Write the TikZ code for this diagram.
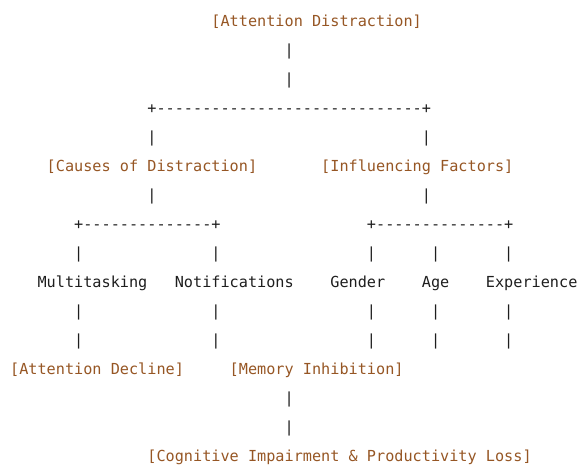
\documentclass[tikz,border=0pt]{standalone}
\usepackage{fontspec}
\setmonofont{DejaVu Sans Mono}
\usepackage{xcolor}
\usetikzlibrary{positioning}
\definecolor{topicbrown}{RGB}{150,86,36}
\definecolor{plaintext}{RGB}{30,30,30}

\begin{document}
\begin{tikzpicture}[x=9.15pt,y=-29pt]
\tikzstyle{every node}=[inner sep=0pt,anchor=base west,font=\ttfamily\fontsize{15.2}{18}\selectfont]
\tikzstyle{topic}=[text=topicbrown]
\tikzstyle{item}=[text=plaintext]
\useasboundingbox (-9.9pt,26.5pt) rectangle (569.1pt,-439.5pt);

\node[topic] (root) at (22,0) {[Attention Distraction]};
\node[item] (bar1) at (15,3) {+-----------------------------+};
\node[topic] (causes) at (4,5) {[Causes of Distraction]};
\node[topic] (factors) at (34,5) {[Influencing Factors]};
\node[item] (bar2) at (7,7) {+--------------+};
\node[item] (bar3) at (39,7) {+--------------+};

\node[item] (multi) at (3,9) {Multitasking};
\node[item] (notif) at (18,9) {Notifications};
\node[item] (gender) at (35,9) {Gender};
\node[item] (age) at (45,9) {Age};
\node[item] (exper) at (52,9) {Experience};

\node[topic] (decline) at (0,12) {[Attention Decline]};
\node[topic] (memory) at (24,12) {[Memory Inhibition]};
\node[topic] (loss) at (15,15) {[Cognitive Impairment \& Productivity Loss]};

% the | links between the rows
\foreach \r/\c in {1/30,2/30,4/15,4/45,6/15,6/45,13/30,14/30}
  \node[item] (pipe-\r-\c) at (\c,\r) {|};
\foreach \r in {8,10,11}
  \foreach \c in {7,22,39,46,54}
    \node[item] (pipe-\r-\c) at (\c,\r) {|};
\end{tikzpicture}
\end{document}
